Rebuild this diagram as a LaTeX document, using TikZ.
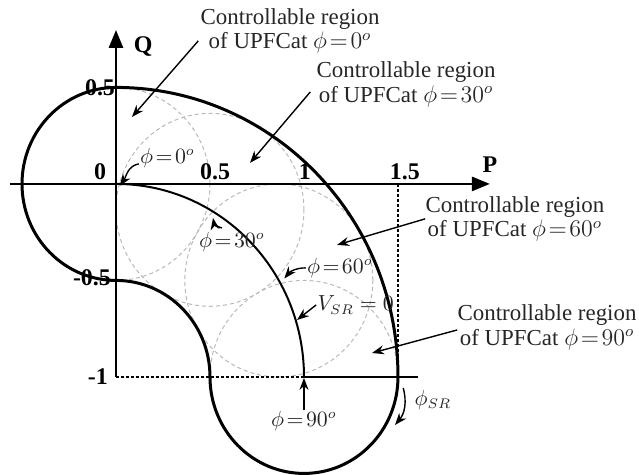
\documentclass[tikz,border=0pt]{standalone}
\usepackage{fontspec}
\setmainfont{Liberation Serif}
\usetikzlibrary{arrows.meta}

\begin{document}
\begin{tikzpicture}[
    x=94bp, y=96.5bp,
    bound/.style={line width=1.5bp},
    ctrl/.style={draw=gray!55, dash pattern=on 2bp off 1.5bp, line width=0.5bp},
    axisline/.style={line width=1.4bp, -{Triangle[length=9bp,width=7bp]}},
    guide/.style={line width=0.8bp, dash pattern=on 1.5bp off 1bp},
    ticklbl/.style={inner sep=0, font=\fontsize{12}{12}\selectfont\bfseries},
    note/.style={inner sep=0, align=center, text=black!85, font=\fontsize{11.5}{12.5}\selectfont},
    arclab/.style={inner sep=0.5bp, text=black!85, font=\fontsize{10.5}{11}\selectfont},
    pointer/.style={line width=0.7bp, -{Stealth[length=6bp,width=4.5bp]}}
]
    \useasboundingbox (-0.617,-1.508) rectangle (2.782,0.953);

    % --- Controllable circles ---
    \foreach \a in {0,30,60,90}
        \draw[ctrl] ({sin(\a)},{cos(\a)-1}) circle[radius=0.5];

    % --- Axes and guides ---
    \draw[guide] (0,-1) -- (1,-1);
    \draw[line width=1.4bp] (1,-1) -- (1.606,-1);
    \draw[guide] (1.5,0) -- (1.5,-1);
    \draw[axisline] (-0.564,0) -- (1.989,0);
    \draw[axisline] (0,-1) -- (0,0.798);

    % --- Boundary and V_SR = 0 arc ---
    \draw[bound] (0,0.5) arc[start angle=90,end angle=0,radius=1.5]
        arc[start angle=0,end angle=-180,radius=0.5]
        arc[start angle=0,end angle=90,radius=0.5]
        arc[start angle=-90,end angle=-270,radius=0.5] -- cycle;
    \draw[line width=1bp] (0,0) arc[start angle=90,end angle=0,radius=1];

    % --- Tick labels ---
    \node[ticklbl] (pname) at (1.989,0.098) {P};
    \node[ticklbl] (qname) at (0.144,0.710) {Q};
    \node[ticklbl] (tzero) at (-0.085,0.062) {0};
    \node[ticklbl] (tphalf) at (0.527,0.062) {0.5};
    \node[ticklbl] (tpone) at (1.005,0.062) {1};
    \node[ticklbl] (tponehalf) at (1.537,0.062) {1.5};
    \node[ticklbl] (tqhalf) at (-0.085,0.497) {0.5};
    \node[ticklbl] (tqmhalf) at (-0.128,-0.487) {-0.5};
    \node[ticklbl] (tqmone) at (-0.096,-1.0) {-1};

    % --- Region notes ---
    \node[note] (lab0) at (0.926,0.793) {Controllable region\\of UPFCat $\phi\!=\!0^o$};
    \node[note] (lab30) at (1.543,0.518) {Controllable region\\of UPFCat $\phi\!=\!30^o$};
    \node[note] (lab60) at (2.122,-0.181) {Controllable region\\of UPFCat $\phi\!=\!60^o$};
    \node[note] (lab90) at (2.293,-0.741) {Controllable region\\of UPFCat $\phi\!=\!90^o$};
    \coordinate (t0) at (0.085,0.347);
    \coordinate (t30) at (0.713,0.109);
    \coordinate (t60) at (1.176,-0.316);
    \coordinate (t90) at (1.362,-0.876);
    \draw[pointer] ([shift={(-1bp,-5bp)}]lab0.west) -- (t0);
    \draw[pointer] ([shift={(-3bp,-4bp)}]lab30.west) -- (t30);
    \draw[pointer] (lab60.west) -- (t60);
    \draw[pointer] ([yshift=-1.5bp]lab90.west) -- (t90);

    % --- Arc labels ---
    \node[arclab] (phi0) at (0.274,0.135) {$\phi\!=\!0^o$};
    \node[arclab] (phi30) at (0.617,-0.301) {$\phi\!=\!30^o$};
    \node[arclab] (phi60) at (1.191,-0.435) {$\phi\!=\!60^o$};
    \node[arclab] (vsr) at (1.275,-0.627) {$V_{SR}=0$};
    \node[arclab] (phi90) at (1.0,-1.228) {$\phi\!=\!90^o$};
    \node[arclab] (phisr) at (1.686,-1.119) {$\phi_{SR}$};
    \coordinate (tp0) at (0.02,-0.01);
    \coordinate (tp30) at (0.516,-0.176);
    \coordinate (tp60) at (0.895,-0.49);
    \coordinate (tpv) at (0.963,-0.705);
    \coordinate (tp90) at (1.0,-1.005);
    \coordinate (tpsr) at (1.484,-1.249);
    \draw[pointer] ([yshift=-3bp]phi0.west) to[out=190,in=55] (tp0);
    \draw[pointer] ([shift={(-5bp,1.5bp)}]phi30.north) to[out=170,in=-80] (tp30);
    \draw[pointer] (phi60.west) to[out=180,in=50] (tp60);
    \draw[pointer] (vsr.west) -- (tpv);
    \draw[pointer] (phi90.north) -- (tp90);
    \draw[pointer] ([shift={(-5bp,6bp)}]phisr.west) to[out=-75,in=50] (tpsr);

\end{tikzpicture}
\end{document}
